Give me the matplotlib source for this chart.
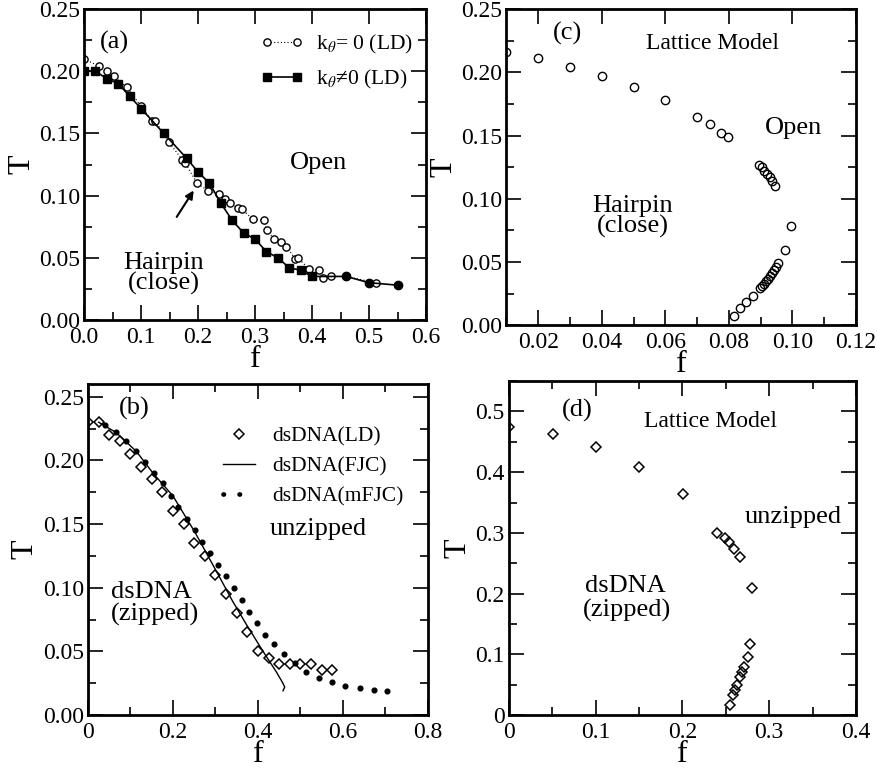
import matplotlib
matplotlib.use("Agg")
import matplotlib.pyplot as plt
from matplotlib.lines import Line2D
from matplotlib.ticker import MultipleLocator, FormatStrFormatter

plt.rcParams['font.family'] = ['Liberation Serif', 'DejaVu Serif']
plt.rcParams['mathtext.fontset'] = 'stix'

# ---- panel (a): Langevin dynamics, hairpin ----
f_k0 = [0.0, 0.026, 0.04, 0.052, 0.075, 0.10, 0.119, 0.125, 0.149, 0.172, 0.178,
        0.198, 0.217, 0.237, 0.248, 0.256, 0.270, 0.277, 0.296, 0.315, 0.321,
        0.334, 0.345, 0.355, 0.371, 0.375, 0.395, 0.413, 0.419, 0.433, 0.46, 0.512]
T_k0 = [0.210, 0.204, 0.200, 0.196, 0.187, 0.172, 0.160, 0.160, 0.143, 0.129, 0.126,
        0.110, 0.104, 0.101, 0.097, 0.094, 0.090, 0.089, 0.081, 0.080, 0.072,
        0.065, 0.063, 0.059, 0.049, 0.050, 0.041, 0.040, 0.034, 0.035, 0.035, 0.030]
f_k1 = [0.0, 0.02, 0.04, 0.06, 0.08, 0.10, 0.14, 0.18, 0.20, 0.22, 0.24, 0.26,
        0.28, 0.30, 0.32, 0.34, 0.36, 0.38, 0.40, 0.46, 0.50, 0.55]
T_k1 = [0.200, 0.200, 0.194, 0.190, 0.180, 0.170, 0.150, 0.130, 0.119, 0.110,
        0.094, 0.080, 0.070, 0.065, 0.055, 0.050, 0.042, 0.040, 0.035, 0.035,
        0.030, 0.028]

# ---- panel (c): lattice model, hairpin ----
f_lat_h = [0.010, 0.020, 0.030, 0.040, 0.050, 0.060, 0.070, 0.074, 0.0776, 0.0797,
           0.0895, 0.0903, 0.0912, 0.0920, 0.0929, 0.0937, 0.0945,
           0.0994, 0.0976, 0.0955,
           0.0948, 0.0942, 0.0936, 0.0930, 0.0924, 0.0918, 0.0912, 0.0905, 0.0898,
           0.0875, 0.0853, 0.0836, 0.0816]
T_lat_h = [0.216, 0.211, 0.204, 0.197, 0.188, 0.178, 0.165, 0.159, 0.152, 0.149,
           0.127, 0.125, 0.122, 0.120, 0.117, 0.114, 0.110,
           0.0786, 0.0596, 0.0495,
           0.0464, 0.0435, 0.041, 0.039, 0.037, 0.035, 0.033, 0.031, 0.0293,
           0.0234, 0.0187, 0.0134, 0.0074]

# ---- panel (b): dsDNA ----
f_ld = [0.0, 0.025, 0.05, 0.075, 0.10, 0.125, 0.15, 0.175, 0.20, 0.225, 0.25, 0.275,
        0.30, 0.325, 0.35, 0.375, 0.40, 0.425, 0.45, 0.475, 0.50, 0.525, 0.55, 0.575]
T_ld = [0.230, 0.230, 0.220, 0.215, 0.205, 0.195, 0.185, 0.175, 0.160, 0.150, 0.135,
        0.125, 0.110, 0.095, 0.080, 0.065, 0.050, 0.045, 0.040, 0.040, 0.040, 0.040,
        0.035, 0.035]
f_fjc = [0.025, 0.067, 0.114, 0.153, 0.200, 0.251, 0.302, 0.341, 0.373, 0.412,
         0.443, 0.457, 0.463, 0.459]
T_fjc = [0.230, 0.2217, 0.207, 0.190, 0.172, 0.144, 0.113, 0.089, 0.071, 0.050,
         0.034, 0.026, 0.022, 0.019]
f_mfjc = [0.039, 0.067, 0.090, 0.114, 0.135, 0.155, 0.176, 0.195, 0.213, 0.233,
          0.251, 0.269, 0.288, 0.307, 0.325, 0.344, 0.362, 0.380, 0.398, 0.417,
          0.438, 0.461, 0.486, 0.514, 0.543, 0.574, 0.606, 0.639, 0.672, 0.704]
T_mfjc = [0.228, 0.222, 0.215, 0.207, 0.199, 0.190, 0.182, 0.172, 0.163, 0.154,
          0.145, 0.136, 0.127, 0.118, 0.109, 0.100, 0.0905, 0.081, 0.072, 0.063,
          0.0556, 0.0477, 0.0407, 0.0336, 0.0289, 0.0257, 0.0231, 0.021, 0.0197, 0.0189]

# ---- panel (d): lattice model, dsDNA ----
f_lat_d = [0.0, 0.051, 0.100, 0.150, 0.201, 0.240, 0.249, 0.254, 0.2596, 0.2665,
           0.280, 0.278, 0.275, 0.2704, 0.2685, 0.2658, 0.2627, 0.260, 0.2577, 0.255]
T_lat_d = [0.475, 0.462, 0.441, 0.409, 0.364, 0.300, 0.292, 0.285, 0.274, 0.2605,
           0.209, 0.117, 0.0953, 0.0788, 0.0716, 0.0623, 0.0496, 0.0413, 0.033, 0.0165]

fig = plt.figure(figsize=(8.78, 7.72), dpi=100)
axA = fig.add_axes([0.0957, 0.5855, 0.3895, 0.4028])
axC = fig.add_axes([0.5767, 0.5786, 0.3983, 0.4097])
axB = fig.add_axes([0.1002, 0.0738, 0.3872, 0.4288])
axD = fig.add_axes([0.5797, 0.0738, 0.3952, 0.4326])

TICK = 17
LEG = 15.5
REG = 19
LAB = 23


def style(ax, xmaj, xmin, ymaj, ymin, xfmt, yfmt, top_minor):
    ax.xaxis.set_major_locator(MultipleLocator(xmaj))
    ax.xaxis.set_minor_locator(MultipleLocator(xmin))
    ax.yaxis.set_major_locator(MultipleLocator(ymaj))
    ax.yaxis.set_minor_locator(MultipleLocator(ymin))
    ax.xaxis.set_major_formatter(FormatStrFormatter(xfmt))
    ax.yaxis.set_major_formatter(FormatStrFormatter(yfmt))
    ax.tick_params(which='both', direction='in', top=True, right=True, width=1.2,
                   labelsize=TICK)
    ax.tick_params(which='major', length=11, pad=3)
    ax.tick_params(axis='x', which='major', pad=5)
    ax.tick_params(which='minor', length=6, top=top_minor)
    for s in ax.spines.values():
        s.set_linewidth(2)
    ax.set_xlabel('f', fontsize=LAB, labelpad=-2)
    ax.set_ylabel('T', fontsize=LAB, labelpad=2)


# (a)
axA.plot(f_k0, T_k0, ls=(0, (1, 2)), lw=0.8, color='k', marker='o', ms=5.2,
         mfc='white', mec='k', mew=1, label=r'k$_\theta$= 0 (LD)')
axA.plot(f_k1[:-3], T_k1[:-3], ls='-', lw=1.2, color='k', marker='s', ms=5.5,
         mfc='k', mec='k', label=r'k$_\theta$≠0 (LD)')
axA.plot(f_k1[-4:], T_k1[-4:], ls='-', lw=1.2, color='k', marker='o', ms=6,
         mfc='k', mec='k', markevery=[1, 2, 3])
axA.set_xlim(0, 0.6)
axA.set_ylim(0, 0.25)
style(axA, 0.1, 0.05, 0.05, 0.025, '%.1f', '%.2f', False)
axA.legend(loc='upper right', frameon=False, fontsize=LEG, numpoints=2,
           handlelength=2.0, handletextpad=0.6, borderaxespad=0.2,
           labelspacing=0.55, bbox_to_anchor=(1.0, 0.965))
axA.annotate('', xy=(0.195, 0.106), xytext=(0.160, 0.081),
             arrowprops=dict(arrowstyle='-|>', color='k', lw=1.5, mutation_scale=12))
axA.text(0.054, 0.223, '(a)', fontsize=REG, ha='center', va='center')
axA.text(0.412, 0.126, 'Open', fontsize=REG, ha='center', va='center')
axA.text(0.14, 0.046, 'Hairpin', fontsize=REG, ha='center', va='center')
axA.text(0.14, 0.029, '(close)', fontsize=REG, ha='center', va='center')

# (c)
axC.plot(f_lat_h, T_lat_h, ls='none', marker='o', ms=6, mfc='none', mec='k', mew=1)
axC.set_xlim(0.01, 0.12)
axC.set_ylim(0, 0.25)
style(axC, 0.02, 0.01, 0.05, 0.025, '%.2f', '%.2f', False)
axC.text(0.0292, 0.231, '(c)', fontsize=REG, ha='center', va='center')
axC.text(0.0749, 0.223, 'Lattice Model', fontsize=17, ha='center', va='center')
axC.text(0.1002, 0.156, 'Open', fontsize=REG, ha='center', va='center')
axC.text(0.0497, 0.094, 'Hairpin', fontsize=REG, ha='center', va='center')
axC.text(0.0497, 0.078, '(close)', fontsize=REG, ha='center', va='center')

# (b)
axB.plot(f_ld, T_ld, ls='none', marker='D', ms=5, mfc='none', mec='k', mew=1.1)
axB.plot(f_fjc, T_fjc, ls='-', lw=1, color='k')
axB.plot(f_mfjc, T_mfjc, ls='none', marker='o', ms=3.4, color='k')
axB.set_xlim(0, 0.8)
axB.set_ylim(0, 0.26)
style(axB, 0.2, 0.1, 0.05, 0.025, '%g', '%.2f', True)
axB.set_xticks([0, 0.2, 0.4, 0.6, 0.8])
axB.set_xticklabels(['0', '0.2', '0.4', '0.6', '0.8'])
hB = [Line2D([], [], ls='none', marker='D', ms=5, mfc='none', mec='k', mew=1.1),
      Line2D([], [], ls='-', lw=1, color='k'),
      Line2D([], [], ls=(0, (0.1, 3.3)), lw=3.4, color='k', dash_capstyle='round')]
axB.legend(hB, ['dsDNA(LD)', 'dsDNA(FJC)', 'dsDNA(mFJC)'], loc='upper right',
           frameon=False, fontsize=LEG, numpoints=1, handlelength=1.5,
           handletextpad=0.8, labelspacing=0.45, bbox_to_anchor=(0.985, 0.93))
axB.text(0.11, 0.241, '(b)', fontsize=REG, ha='center', va='center')
axB.text(0.541, 0.146, 'unzipped', fontsize=REG, ha='center', va='center')
axB.text(0.15, 0.097, 'dsDNA', fontsize=REG, ha='center', va='center')
axB.text(0.157, 0.079, '(zipped)', fontsize=REG, ha='center', va='center')

# (d)
axD.plot(f_lat_d, T_lat_d, ls='none', marker='D', ms=5, mfc='none', mec='k', mew=1.1)
axD.set_xlim(0, 0.4)
axD.set_ylim(0, 0.55)
style(axD, 0.1, 0.05, 0.1, 0.05, '%.1f', '%.1f', True)
axD.set_xticks([0, 0.1, 0.2, 0.3, 0.4])
axD.set_xticklabels(['0', '0.1', '0.2', '0.3', '0.4'])
axD.set_yticks([0, 0.1, 0.2, 0.3, 0.4, 0.5])
axD.set_yticklabels(['0', '0.1', '0.2', '0.3', '0.4', '0.5'])
axD.text(0.079, 0.501, '(d)', fontsize=REG, ha='center', va='center')
axD.text(0.232, 0.483, 'Lattice Model', fontsize=17, ha='center', va='center')
axD.text(0.328, 0.326, 'unzipped', fontsize=REG, ha='center', va='center')
axD.text(0.134, 0.212, 'dsDNA', fontsize=REG, ha='center', va='center')
axD.text(0.136, 0.173, '(zipped)', fontsize=REG, ha='center', va='center')

fig.savefig('out.png', dpi=100)
